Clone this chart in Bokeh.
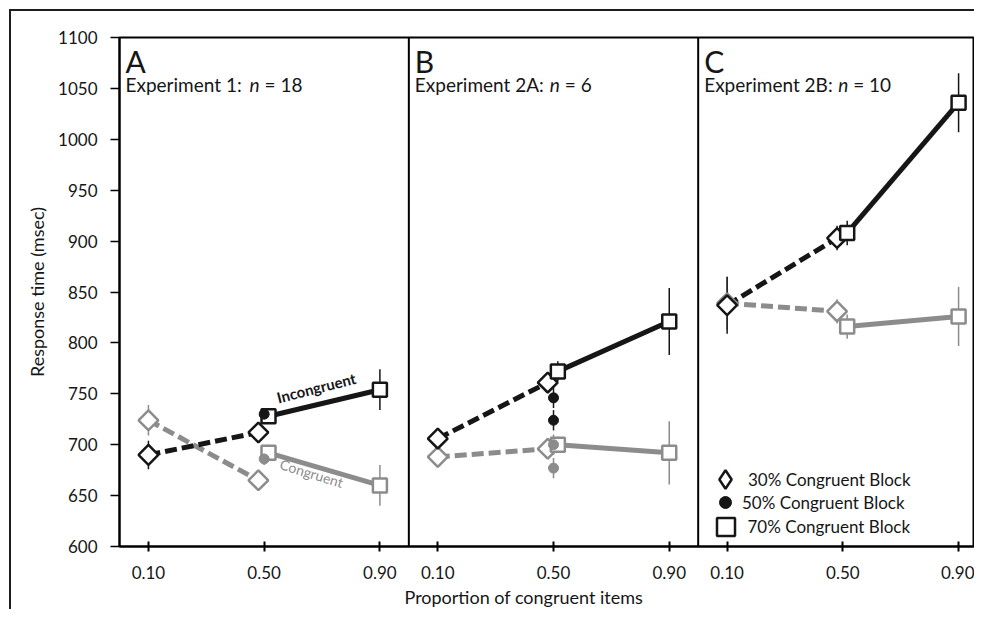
import math
from bokeh.plotting import figure
from bokeh.models import (Range1d, FixedTicker, Span, Legend, LegendItem, Label, Title,
                          ColumnDataSource)
from bokeh.core.properties import value
from bokeh.embed import file_html
from bokeh.resources import INLINE

FONT = "Lato"
INK = "#161616"
GREY = "#8c8c8c"

# ---------------- data ----------------
panel_letters = ["A", "B", "C"]
experiment_names = ["Experiment 1:", "Experiment 2A:", "Experiment 2B:"]
n_labels = ["18", "6", "10"]
proportions = [0.10, 0.50, 0.90]
prop_labels = ["0.10", "0.50", "0.90"]
y_ticks = [600, 650, 700, 750, 800, 850, 900, 950, 1000, 1050, 1100]

# 30% congruent block (diamonds) at proportions 0.10 and 0.50
b30_props = [0.10, 0.50]
incong_b30 = [[690, 712], [706, 761], [837, 903]]
incong_b30_err = [[14, 6], [5, 6], [28, 12]]
cong_b30 = [[724, 665], [688, 696], [839, 831]]
cong_b30_err = [[15, 5], [5, 10], [26, 12]]

# 70% congruent block (squares) at proportions 0.50 and 0.90
b70_props = [0.50, 0.90]
incong_b70 = [[728, 754], [772, 821], [908, 1036]]
incong_b70_err = [[6, 20], [10, 33], [12, 29]]
cong_b70 = [[692, 660], [700, 692], [816, 826]]
cong_b70_err = [[8, 20], [8, 31], [12, 29]]

# 50% congruent block (filled circles) at proportion 0.50
b50_prop = [0.50, 0.50]
incong_b50 = [[730], [746, 724], []]
incong_b50_err = [[6], [10, 10], []]
cong_b50 = [[686], [700, 677], []]
cong_b50_err = [[6], [10, 10], []]

# horizontal dodge of the blocks at the shared 0.50 position (style only)
DODGE = {"b30": -0.02, "b70": 0.015, "b50": 0.0}


def dodged(props, key):
    return [pr + (DODGE[key] if abs(pr - 0.5) < 1e-9 else 0.0) for pr in props]


def point_source(props, values, errors):
    x, y, lo, hi = [], [], [], []
    for panel, (vals, errs) in enumerate(zip(values, errors)):
        for k, (v, e) in enumerate(zip(vals, errs)):
            x.append(panel + props[k])
            y.append(v)
            lo.append(v - e)
            hi.append(v + e)
    return ColumnDataSource(dict(x=x, y=y, lo=lo, hi=hi))


def line_source(props, values):
    xs = [[panel + pr for pr in props] for panel in range(len(values))]
    return ColumnDataSource(dict(xs=xs, ys=[list(v) for v in values]))


x30 = dodged(b30_props, "b30")
x70 = dodged(b70_props, "b70")
x50 = dodged(b50_prop, "b50")

# ---------------- figure ----------------
p = figure(width=974, height=609, x_range=Range1d(0, 2.955), y_range=Range1d(600, 1100),
           output_backend="svg", toolbar_location=None,
           min_border_left=119, min_border_right=0, min_border_top=37,
           min_border_bottom=62)
bar = "linear-gradient(#1e1e1e, #1e1e1e)"
p.styles = {"background-image": bar + ", " + bar,
            "background-size": "2px 100%, 100% 2px",
            "background-position": "9px 9px, 9px 9px",
            "background-repeat": "no-repeat"}
p.xgrid.visible = False
p.ygrid.visible = False
p.outline_line_color = "black"
p.outline_line_width = 2
p.background_fill_color = "white"
p.border_fill_color = None

ya = p.yaxis[0]
ya.ticker = FixedTicker(ticks=y_ticks)
ya.axis_label = "Response time (msec)"
ya.axis_label_text_font = FONT
ya.axis_label_text_font_size = "18px"
ya.axis_label_text_font_style = "normal"
ya.axis_label_text_color = INK
ya.axis_label_standoff = 7
ya.major_label_text_font = FONT
ya.major_label_text_font_size = "17px"
ya.major_label_text_color = INK
ya.major_label_standoff = 13
ya.major_tick_out = 9
ya.major_tick_in = 0
ya.minor_tick_out = 0
ya.minor_tick_in = 0
ya.axis_line_width = 2
ya.axis_line_color = "black"
ya.major_tick_line_width = 1.5

xa = p.xaxis[0]
tick_pos = [panel + pr for panel in range(3) for pr in proportions]
xa.ticker = FixedTicker(ticks=tick_pos)
xa.major_label_overrides = {panel + pr: lab for panel in range(3)
                            for pr, lab in zip(proportions, prop_labels)}
xa.major_label_text_font = FONT
xa.major_label_text_font_size = "17px"
xa.major_label_text_color = INK
xa.major_label_standoff = 14
xa.major_tick_in = 5
xa.major_tick_out = 5
xa.minor_tick_in = 0
xa.minor_tick_out = 0
xa.axis_line_width = 2
xa.axis_line_color = "black"
xa.major_tick_line_width = 2

p.add_layout(Title(text="Proportion of congruent items", align="left", offset=285,
                   standoff=4, text_font=FONT, text_font_size="18px",
                   text_font_style="normal", text_color=INK), "below")

for loc in (1, 2):
    p.add_layout(Span(location=loc, dimension="height", line_color="black", line_width=2))

# ---------------- error bars ----------------
g30 = point_source(x30, cong_b30, cong_b30_err)
g70 = point_source(x70, cong_b70, cong_b70_err)
g50 = point_source(x50, cong_b50, cong_b50_err)
k30 = point_source(x30, incong_b30, incong_b30_err)
k70 = point_source(x70, incong_b70, incong_b70_err)
k50 = point_source(x50, incong_b50, incong_b50_err)
for col, src in [(GREY, g30), (GREY, g70), (GREY, g50), (INK, k30), (INK, k70), (INK, k50)]:
    p.segment(x0="x", y0="lo", x1="x", y1="hi", source=src, line_color=col, line_width=1.5)

# ---------------- connecting lines ----------------
p.multi_line(xs="xs", ys="ys", source=line_source(x30, cong_b30),
             line_color=GREY, line_width=5, line_dash="12 5")
p.multi_line(xs="xs", ys="ys", source=line_source(x70, cong_b70),
             line_color=GREY, line_width=5)
p.multi_line(xs="xs", ys="ys", source=line_source(x30, incong_b30),
             line_color=INK, line_width=5, line_dash="12 5")
p.multi_line(xs="xs", ys="ys", source=line_source(x70, incong_b70),
             line_color=INK, line_width=5)

# ---------------- markers ----------------
p.scatter(x="x", y="y", source=g30, marker="square", angle=math.pi / 4, size=14,
          fill_color="white", line_color=GREY, line_width=2.5)
p.scatter(x="x", y="y", source=g70, marker="square", size=14,
          fill_color="white", line_color=GREY, line_width=2.5)
p.scatter(x="x", y="y", source=g50, marker="circle", size=10,
          fill_color=GREY, line_color=GREY, line_width=1)
p.scatter(x="x", y="y", source=k30, marker="square", angle=math.pi / 4, size=14,
          fill_color="white", line_color=INK, line_width=2.5)
r_sq = p.scatter(x="x", y="y", source=k70, marker="square", size=14,
                 fill_color="white", line_color=INK, line_width=2.5)
r_ci = p.scatter(x="x", y="y", source=k50, marker="circle", size=10,
                 fill_color=INK, line_color=INK, line_width=1)
# key-only renderer (its single point is NaN, so nothing is drawn) for an upright legend diamond
r_dia = p.scatter(x="x", y="y", source=ColumnDataSource(dict(x=[float("nan")], y=[float("nan")])),
                  marker="diamond", size=14, fill_color="white", line_color=INK,
                  line_width=2.5)

# ---------------- panel texts ----------------
w_n = [124, 135, 134]
txt = ColumnDataSource(dict(
    x=[0, 1, 2], y=[1100] * 3, letter=panel_letters, exp=experiment_names,
    n=["n"] * 3, rest=["= " + s for s in n_labels],
    off_n=[6 + w for w in w_n], off_r=[6 + w + 15 for w in w_n]))
p.text(x="x", y="y", text="letter", source=txt, x_offset=6, y_offset=5,
       text_baseline="top", text_font=value(FONT), text_font_size="30px", text_color=INK)
p.text(x="x", y="y", text="exp", source=txt, x_offset=6, y_offset=35,
       text_baseline="top", text_font=value(FONT), text_font_size="19px", text_color=INK)
p.text(x="x", y="y", text="n", source=txt, x_offset="off_n", y_offset=35,
       text_baseline="top", text_font=value(FONT), text_font_size="19px",
       text_font_style="italic", text_color=INK)
p.text(x="x", y="y", text="rest", source=txt, x_offset="off_r", y_offset=35,
       text_baseline="top", text_font=value(FONT), text_font_size="19px", text_color=INK)

p.add_layout(Label(x=0.68, y=756, text="Incongruent", angle=0.25, text_align="center",
                   text_baseline="middle", text_font=FONT, text_font_size="15px",
                   text_font_style="bold", text_color=INK))
p.add_layout(Label(x=0.664, y=672, text="Congruent", angle=-0.3, text_align="center",
                   text_baseline="middle", text_font=FONT, text_font_size="14px",
                   text_color=GREY))

# ---------------- legend ----------------
legend_keys = [("30% Congruent Block", r_dia, 46, 67),
               ("50% Congruent Block", r_ci, 30, 44),
               ("70% Congruent Block", r_sq, 45, 20)]
for label, rend, box, cy in legend_keys:
    leg = Legend(items=[LegendItem(label=label, renderers=[rend])],
                 location=(606 - box / 2, cy - box / 2),
                 glyph_width=box, glyph_height=box, label_standoff=int(17 - box / 2),
                 label_height=0, padding=0, margin=0, spacing=0,
                 border_line_alpha=0, background_fill_alpha=0,
                 label_text_font=FONT, label_text_font_size="17px",
                 label_text_color=INK, label_text_baseline="middle")
    p.add_layout(leg)

open("out.html", "w").write(file_html(p, INLINE))
